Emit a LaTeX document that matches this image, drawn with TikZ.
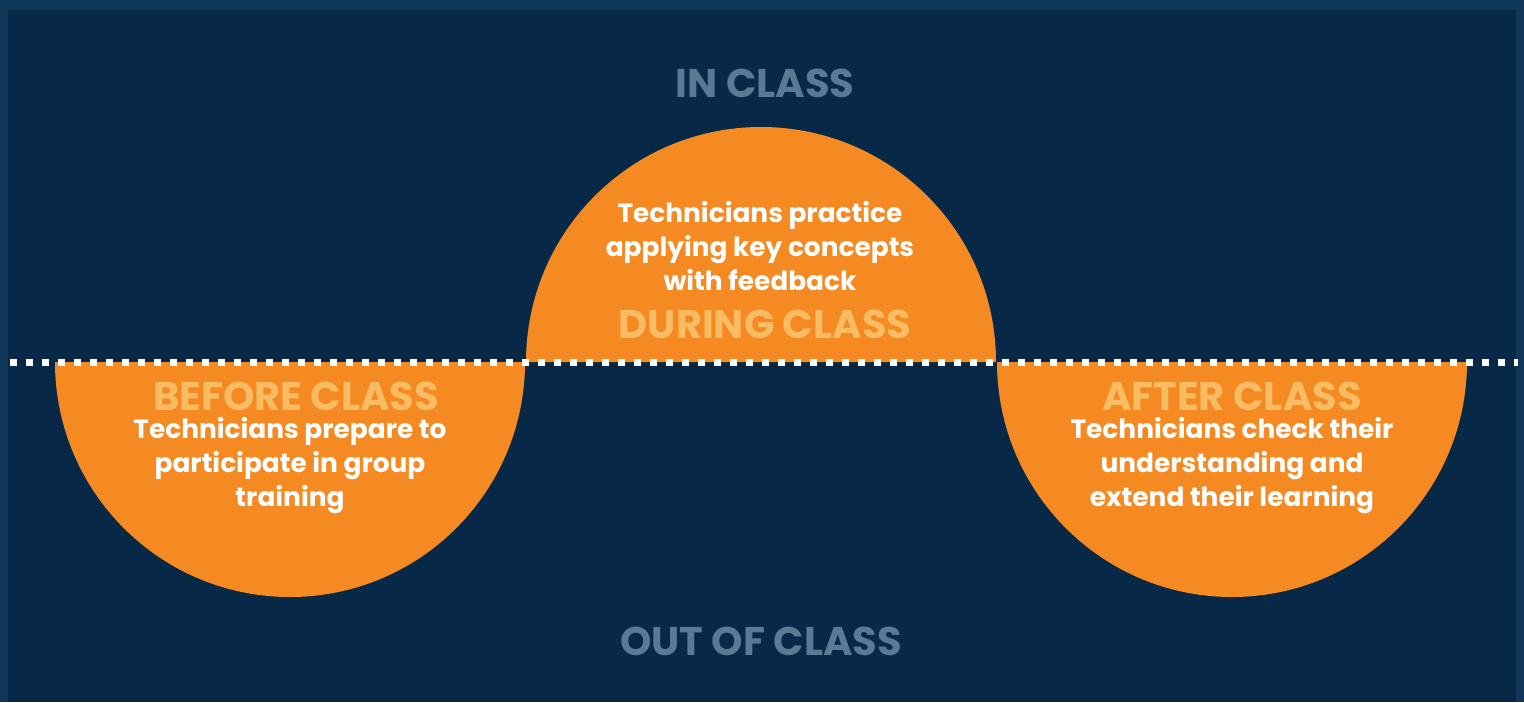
\documentclass[tikz,border=0pt]{standalone}
\usepackage{fontspec}
\setmainfont{Poppins}
\definecolor{frameblue}{HTML}{10365A}
\definecolor{navy}{HTML}{072847}
\definecolor{orangefill}{HTML}{F58A23}
\definecolor{titleyellow}{HTML}{F9BC62}
\definecolor{zonegray}{HTML}{587A94}

\tikzstyle{half}=[fill=orangefill]
\tikzstyle{zone}=[font=\bfseries\fontsize{20}{22}\selectfont, text=zonegray]
\tikzstyle{phase}=[font=\bfseries\fontsize{20}{22}\selectfont, text=titleyellow]
\tikzstyle{blurb}=[font=\bfseries\fontsize{13.2}{17}\selectfont, text=white, align=center]
\tikzstyle{divider}=[draw=white, line width=3.5pt, dash pattern=on 3.5pt off 4.5pt]

\begin{document}
\begin{tikzpicture}[x=0.5pt, y=-0.5pt]
     % Frame and background
     \fill[frameblue] (0,0) rectangle (1524,702);
     \fill[navy] (8,10) rectangle (1516,702);
     \useasboundingbox (0,0) rectangle (1524,702);

     % The three half discs
     \fill[half] (526,362) arc[start angle=180, end angle=360, radius=235] -- cycle;
     \fill[half] (55,362) arc[start angle=180, end angle=0, radius=235] -- cycle;
     \fill[half] (997,362) arc[start angle=180, end angle=0, radius=235] -- cycle;

     % Dotted divider
     \coordinate (lineL) at (10,362);
     \coordinate (lineR) at (1518,362);
     \path[divider] (lineL) -- (lineR);

     % Zone labels
     \node[zone] (in) at (765,83) {IN CLASS};
     \node[zone] (out) at (761,641) {OUT OF CLASS};

     % Phase titles and texts
     \node[phase] (during) at (765,324) {DURING CLASS};
     \node[blurb] (duringtext) at (760,246) {Technicians practice\\applying key concepts\\with feedback};

     \node[phase] (before) at (296,396) {BEFORE CLASS};
     \node[blurb] (beforetext) at (290,466) {Technicians prepare to\\participate in group\\training};

     \node[phase] (after) at (1232,396) {AFTER CLASS};
     \node[blurb] (aftertext) at (1232,466) {Technicians check their\\understanding and\\extend their learning};
\end{tikzpicture}
\end{document}
